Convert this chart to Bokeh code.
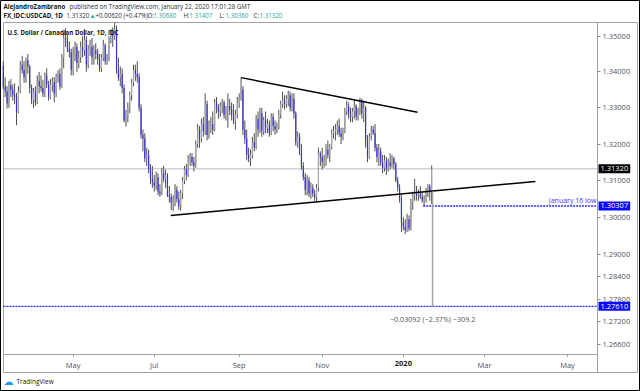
import numpy as np
import pandas as pd
from bokeh.plotting import figure
from bokeh.models import Range1d, FixedTicker, PrintfTickFormatter, Label
from bokeh.embed import file_html
from bokeh.resources import INLINE

# ---------------- data (USDCAD daily, values in 1/10000) ----------------
dates = pd.bdate_range("2019-03-11", "2020-01-22")

opens = [13418,13360,13345,13312,13362,13350,13335,13330,13290,13345,
 13420,13405,13385,13432,13415,13355,13320,13345,13315,13375,
 13360,13355,13340,13390,13365,13330,13365,13372,13340,13385,
 13395,13360,13440,13495,13490,13465,13455,13405,13450,13470,
 13425,13440,13470,13460,13490,13420,13465,13470,13440,13460,
 13450,13435,13410,13440,13475,13430,13440,13495,13510,13500,
 13520,13405,13385,13395,13355,13265,13275,13300,13335,13370,
 13405,13395,13385,13300,13225,13215,13160,13170,13130,13105,
 13095,13085,13110,13070,13065,13120,13105,13115,13060,13055,
 13040,13045,13075,13050,13030,13065,13100,13130,13115,13160,
 13165,13150,13140,13200,13240,13215,13255,13235,13310,13225,
 13240,13255,13240,13315,13300,13290,13305,13315,13280,13300,
 13305,13295,13280,13265,13280,13315,13330,13350,13240,13215,
 13170,13160,13170,13205,13190,13270,13240,13285,13235,13265,
 13245,13255,13230,13275,13250,13240,13245,13280,13310,13320,
 13310,13325,13335,13300,13325,13285,13205,13220,13180,13140,
 13110,13075,13100,13065,13080,13065,13055,13080,13175,13165,
 13150,13160,13185,13170,13190,13230,13235,13240,13250,13230,
 13220,13235,13290,13305,13285,13275,13290,13305,13275,13290,
 13320,13285,13300,13205,13165,13220,13240,13230,13190,13165,
 13180,13150,13135,13155,13130,13150,13140,13160,13145,13100,
 13080,13050,12985,12975,12965,12995,12970,13040,13060,13065,
 13060,13065,13055,13045,13050,13075,13085,13068]

highs = [13430,13385,13360,13375,13380,13365,13368,13342,13360,13430,
 13445,13430,13440,13450,13420,13365,13355,13360,13390,13400,
 13390,13378,13398,13410,13375,13380,13385,13385,13395,13405,
 13410,13450,13510,13522,13505,13485,13465,13470,13485,13480,
 13460,13485,13500,13520,13500,13475,13490,13495,13475,13480,
 13465,13450,13450,13490,13480,13450,13500,13520,13525,13538,
 13530,13440,13415,13410,13365,13295,13315,13345,13380,13420,
 13420,13430,13395,13310,13240,13230,13190,13185,13145,13140,
 13115,13125,13120,13090,13135,13140,13130,13120,13085,13065,
 13060,13090,13085,13070,13075,13110,13140,13145,13170,13175,
 13175,13165,13210,13255,13250,13270,13275,13340,13320,13265,
 13275,13290,13325,13330,13310,13315,13325,13320,13305,13340,
 13325,13315,13310,13295,13330,13340,13384,13360,13265,13240,
 13190,13185,13220,13230,13280,13290,13300,13300,13275,13290,
 13270,13265,13285,13285,13265,13260,13295,13320,13345,13335,
 13335,13348,13345,13340,13340,13290,13235,13230,13200,13150,
 13120,13115,13110,13095,13090,13075,13090,13190,13180,13190,
 13170,13200,13210,13200,13240,13250,13255,13265,13270,13245,
 13245,13300,13320,13315,13300,13300,13320,13310,13300,13328,
 13325,13320,13305,13225,13230,13250,13250,13255,13200,13200,
 13190,13170,13170,13165,13160,13175,13170,13165,13150,13110,
 13090,13060,13000,12995,13010,13005,13050,13070,13105,13085,
 13075,13085,13070,13060,13080,13090,13090,13141]

lows = [13352,13330,13298,13300,13330,13320,13310,13252,13285,13340,
 13395,13370,13370,13395,13340,13310,13300,13305,13310,13340,
 13345,13330,13330,13355,13320,13325,13345,13315,13330,13370,
 13350,13355,13410,13470,13455,13440,13390,13390,13430,13400,
 13410,13425,13440,13445,13400,13410,13445,13420,13420,13435,
 13420,13400,13400,13430,13420,13420,13430,13480,13470,13490,
 13395,13375,13360,13340,13260,13248,13260,13285,13320,13360,
 13375,13370,13290,13215,13180,13150,13140,13120,13090,13080,
 13070,13075,13060,13055,13060,13095,13080,13055,13040,13020,
 13017,13030,13040,13020,13018,13050,13090,13100,13110,13140,
 13140,13125,13135,13190,13190,13205,13220,13225,13210,13215,
 13230,13225,13235,13285,13270,13275,13285,13270,13265,13245,
 13280,13265,13255,13240,13270,13300,13320,13225,13200,13155,
 13150,13140,13160,13180,13185,13220,13230,13220,13225,13230,
 13230,13220,13225,13235,13225,13230,13240,13270,13300,13295,
 13300,13305,13290,13290,13270,13195,13190,13170,13130,13100,
 13060,13060,13055,13050,13055,13045,13042,13070,13140,13130,
 13135,13140,13160,13150,13185,13215,13210,13225,13220,13200,
 13210,13230,13280,13270,13260,13260,13270,13265,13265,13280,
 13270,13260,13190,13150,13160,13210,13225,13180,13150,13140,
 13140,13120,13125,13115,13125,13130,13135,13130,13095,13070,
 13040,12960,12965,12955,12960,12962,12965,13020,13045,13045,
 13045,13050,13040,13031,13040,13055,13045,13036]

closes = [13360,13345,13312,13362,13350,13335,13330,13290,13345,13420,
 13405,13385,13432,13415,13355,13320,13345,13315,13375,13360,
 13355,13340,13390,13365,13330,13365,13372,13340,13385,13395,
 13360,13440,13495,13490,13465,13455,13405,13450,13470,13425,
 13440,13470,13460,13490,13420,13465,13470,13440,13460,13450,
 13435,13410,13440,13475,13430,13440,13495,13510,13500,13520,
 13405,13385,13395,13355,13265,13275,13300,13335,13370,13405,
 13395,13385,13300,13225,13215,13160,13170,13130,13105,13095,
 13085,13110,13070,13065,13120,13105,13115,13060,13055,13040,
 13045,13075,13050,13030,13065,13100,13130,13115,13160,13165,
 13150,13140,13200,13240,13215,13255,13235,13310,13225,13240,
 13255,13240,13315,13300,13290,13305,13315,13280,13300,13305,
 13295,13280,13265,13280,13315,13330,13350,13240,13215,13170,
 13160,13170,13205,13190,13270,13240,13285,13235,13265,13245,
 13255,13230,13275,13250,13240,13245,13280,13310,13320,13310,
 13325,13335,13300,13325,13285,13205,13220,13180,13140,13110,
 13075,13100,13065,13080,13065,13055,13080,13175,13165,13150,
 13160,13185,13170,13190,13230,13235,13240,13250,13230,13220,
 13235,13290,13305,13285,13275,13290,13305,13275,13290,13320,
 13285,13300,13205,13165,13220,13240,13230,13190,13165,13180,
 13150,13135,13155,13130,13150,13140,13160,13145,13100,13080,
 13050,12985,12975,12965,12995,12970,13040,13060,13065,13060,
 13065,13055,13045,13050,13075,13085,13068,13132]

month_dates = ["2019-05-01", "2019-07-01", "2019-09-02", "2019-11-01",
               "2020-01-01", "2020-03-02", "2020-05-01"]
month_labels = ["May", "Jul", "Sep", "Nov", "2020", "Mar", "May"]
price_ticks = [1.35, 1.34, 1.33, 1.32, 1.31, 1.30, 1.29, 1.284, 1.278, 1.272, 1.266]

# drawings
upper_trend_x = ["2019-09-03", 219.5]
upper_trend_prices = [1.3384, 1.32879]
lower_trend_idx = [88.7, 282.0]
lower_trend_prices = [1.30050, 1.30974]
last_price = 1.31320
jan16_low = 1.30307
target_level = 1.27610
measure_top = 1.30702
measure_text = "\u22120.03092 (\u22122.37%) \u2212309.2"

# ---------------- layout helpers (pixel -> data) ----------------
W, H = 640, 391
X0, DX = 2.8, 1.887          # px of bar 0, px per bar
Y0, KY, P0 = 35.7, 4799.0, 1.35   # log price scale


def px_x(px):
    return (px - X0) / DX


def px_y(py):
    return P0 * np.exp(-(py - Y0) / KY)


o = np.array(opens) / 10000
h = np.array(highs) / 10000
l = np.array(lows) / 10000
c = np.array(closes) / 10000
n = len(dates)
x = np.arange(n)
ext = pd.bdate_range("2019-03-11", "2020-06-30")
pos = {d: i for i, d in enumerate(ext)}
month_idx = [pos[pd.Timestamp(d)] for d in month_dates]
up_i = int(pos[pd.Timestamp(upper_trend_x[0])])
jan16_i = int(pos[pd.Timestamp("2020-01-16")])
last_i = n - 1

CH_L, CH_R, CH_T, CH_B = 3, 597, 22, 354   # chart box (px)

p = figure(width=W, height=H, output_backend="svg", toolbar_location=None,
           y_axis_type="log", y_axis_location="right",
           x_range=Range1d(px_x(0), px_x(W)), y_range=Range1d(px_y(H), px_y(0)),
           min_border=0)
p.background_fill_color = "white"
p.border_fill_color = "white"
p.outline_line_color = "black"
p.grid.visible = False

TXT = "#50535e"
FONT = "Open Sans"
GRAY = "#a3a3a3"

# outer box around chart + axes
p.quad(left=[px_x(CH_L)], right=[px_x(637)], top=[px_y(CH_T)], bottom=[px_y(372)],
       fill_color=None, line_color=GRAY, line_width=1)

# candles
inc = c >= o
dec = ~inc
p.segment(x, h, x, l, color="#505050", line_width=1)
p.vbar(x[inc], 0.62, o[inc], c[inc], fill_color="#a8a8a8", line_color=None)
p.vbar(x[dec], 0.62, c[dec], o[dec], fill_color="#3a2de8", line_color=None)

# trend lines
p.line([up_i, upper_trend_x[1]], upper_trend_prices, color="black", line_width=1.5)
p.line(lower_trend_idx, lower_trend_prices, color="black", line_width=1.5)

# horizontal levels
p.segment([px_x(CH_L)], [last_price], [px_x(CH_R)], [last_price], color="#7a7a7a",
          line_dash="1 1", line_width=1)
p.segment([px_x(CH_L)], [target_level], [px_x(CH_R)], [target_level], color="#2b2bff",
          line_dash="2 1", line_width=1.3)
p.segment([jan16_i - 0.5], [jan16_low], [px_x(CH_R)], [jan16_low], color="#2b2bff",
          line_dash="2 1", line_width=1.3)

# measurement
p.segment([last_i + 0.5], [measure_top], [last_i + 0.5], [target_level],
          color="#a6a6a6", line_width=1.5)
p.add_layout(Label(x=last_i + 0.5, y=px_y(318), text=measure_text, text_font=FONT,
                   text_font_size="7.2px", text_color="#555555", text_align="center",
                   text_baseline="middle"))
p.add_layout(Label(x=596, x_units="screen", y=px_y(200), text="January 16 low",
                   text_font=FONT, text_font_size="7px", text_color="#3a3aff",
                   text_align="right", text_baseline="middle"))

# axes (drawn at fixed positions inside the canvas)
ya = p.yaxis[0]
ya.fixed_location = px_x(CH_R)
ya.bounds = (px_y(372), px_y(CH_T))
ya.ticker = FixedTicker(ticks=price_ticks)
ya.formatter = PrintfTickFormatter(format="%.5f")
ya.major_tick_in = 0
ya.major_tick_out = 3
ya.minor_tick_in = 0
ya.minor_tick_out = 0
ya.major_label_standoff = 2
ya.axis_line_color = GRAY
ya.major_tick_line_color = "#8a8a8a"
ya.major_label_text_font = FONT
ya.major_label_text_font_size = "7.5px"
ya.major_label_text_color = TXT

xa = p.xaxis[0]
xa.fixed_location = px_y(CH_B)
xa.bounds = (px_x(CH_L), px_x(CH_R))
xa.ticker = FixedTicker(ticks=month_idx)
xa.major_label_overrides = {int(i): (lab if lab != "2020" else "")
                            for i, lab in zip(month_idx, month_labels)}
xa.major_tick_in = 0
xa.major_tick_out = 2
xa.minor_tick_in = 0
xa.minor_tick_out = 0
xa.major_label_standoff = 3
xa.axis_line_color = GRAY
xa.major_tick_line_color = "#8a8a8a"
xa.major_label_text_font = FONT
xa.major_label_text_font_size = "7.5px"
xa.major_label_text_color = TXT
yr_i = month_idx[month_labels.index("2020")]
p.add_layout(Label(x=yr_i, y=px_y(363), text="2020", text_font=FONT,
                   text_font_size="7.5px", text_font_style="bold", text_color="#131722",
                   text_align="center", text_baseline="middle"))

# price boxes on the axis
for val, bg in [(last_price, "#000000"), (jan16_low, "#0a0aff"), (target_level, "#0a0aff")]:
    p.add_layout(Label(x=CH_R + 1, x_units="screen", y=val, text=f"{val:.5f}",
                       text_font=FONT, text_font_size="7.5px", text_color="white",
                       text_align="left", text_baseline="middle",
                       background_fill_color=bg, padding=2))

# chart title
p.add_layout(Label(x=7, y=H - 32, x_units="screen", y_units="screen",
                   text="U.S. Dollar / Canadian Dollar, 1D, IDC", text_font=FONT,
                   text_font_size="6.1px", text_font_style="bold", text_color="#131722",
                   text_baseline="middle"))


def hdr(xs, ys, txt, color="#2a2e39", style="normal"):
    p.add_layout(Label(x=xs, y=H - ys, x_units="screen", y_units="screen", text=txt,
                       text_font=FONT, text_font_size="6.2px", text_font_style=style,
                       text_color=color, text_baseline="middle"))


TEAL = "#26a69a"
hdr(3, 6, "AlejandroZambrano", "#131722", "bold")
hdr(69, 6, "published on TradingView.com, January 22, 2020 17:01:28 GMT")
hdr(3, 15, "FX_IDC:USDCAD, 1D", "#131722", "bold")
hdr(66, 15, "1.31320")
hdr(89, 15, "\u25b2", TEAL)
hdr(95, 15, "+0.00620 (+0.47%)")
for xo, k, v in [(147, "O:", "1.30680"), (183, "H:", "1.31407"),
                 (219, "L:", "1.30360"), (253, "C:", "1.31320")]:
    hdr(xo, 15, k)
    hdr(xo + 6, 15, v, TEAL)

p.add_layout(Label(x=3, y=H - 381, x_units="screen", y_units="screen", text="\u2601",
                   text_font="DejaVu Sans", text_font_size="10px", text_color="#2196f3",
                   text_baseline="middle"))
p.add_layout(Label(x=16, y=H - 381, x_units="screen", y_units="screen", text="TradingView",
                   text_font=FONT, text_font_size="6.5px", text_color="#131722",
                   text_baseline="middle"))

open("out.html", "w").write(file_html(p, INLINE))
